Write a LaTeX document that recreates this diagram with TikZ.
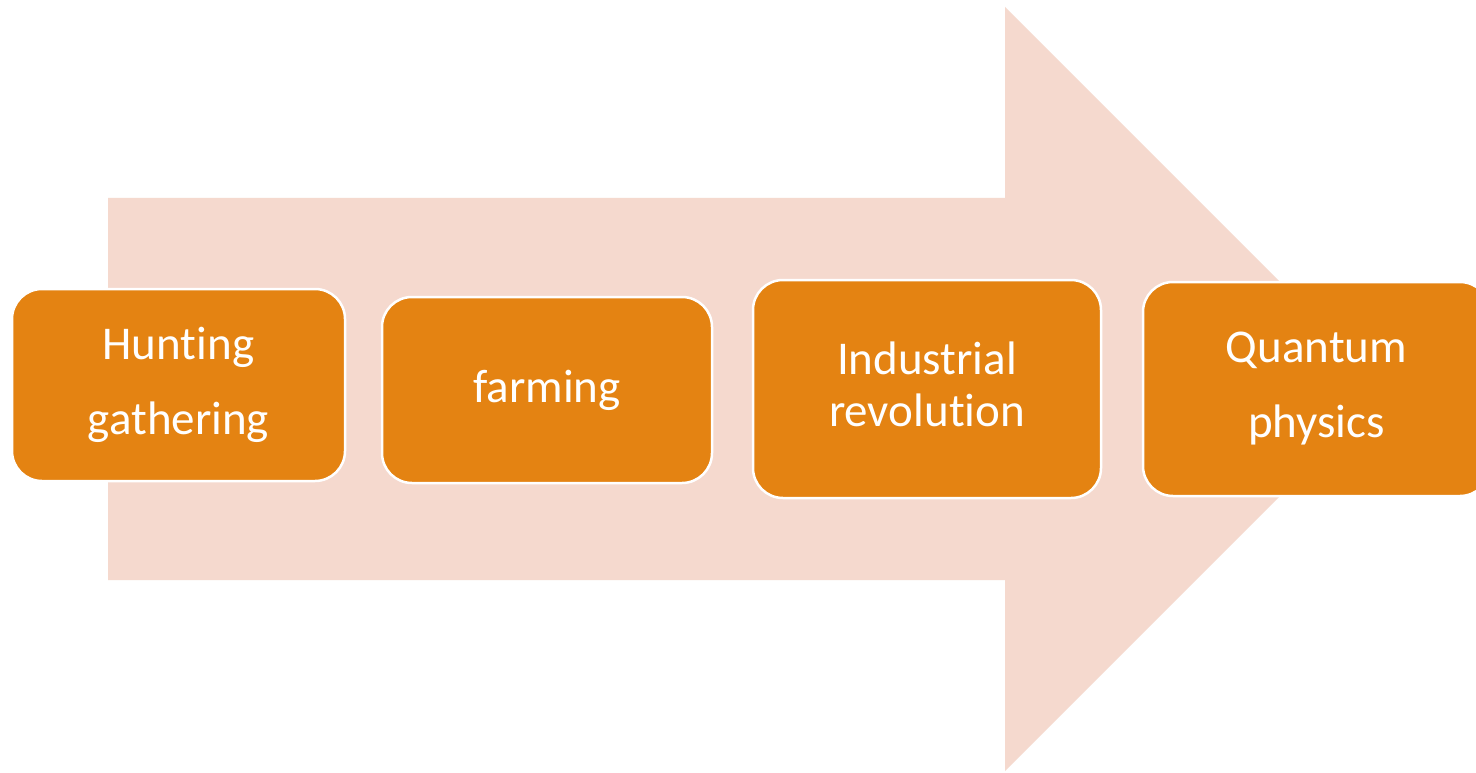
\documentclass[tikz,border=0pt]{standalone}
\usepackage{fontspec}
\setmainfont{Carlito}[RawFeature=-liga]
\definecolor{arrowpink}{HTML}{F5D9CE}
\definecolor{boxorange}{HTML}{E48312}
\begin{document}
\begin{tikzpicture}[x=1pt,y=-1pt,
  stagebox/.style={draw=white, line width=2.5pt, fill=boxorange, rounded corners=30pt,
    text=white, align=center, inner sep=0pt,
    font=\fontsize{47}{75}\selectfont},
  stagetext/.style={text=white, align=center, inner sep=0pt,
    font=\fontsize{47}{52}\selectfont}]
\useasboundingbox (0,0) rectangle (1476,773);
\fill[white] (0,0) rectangle (1476,773);
\fill[arrowpink] (108,198) -- (1005,198) -- (1005,7) -- (1387,389) -- (1005,771) -- (1005,580) -- (108,580) -- cycle;
\node[stagebox, minimum width=333pt, minimum height=192pt] (hunt) at (178.5,385) {Hunting\\gathering};
\node[stagebox, minimum width=330pt, minimum height=186pt] (farm) at (547,390) {farming};
\node[stagebox, minimum width=348pt, minimum height=218pt] (ind) at (927,389) {};
\node[stagetext] (indtext) at ([yshift=5pt]ind.center) {Industrial\\revolution};
\node[stagebox, minimum width=347pt, minimum height=214pt] (quant) at (1316.5,389) {Quantum\\physics};
\end{tikzpicture}
\end{document}
